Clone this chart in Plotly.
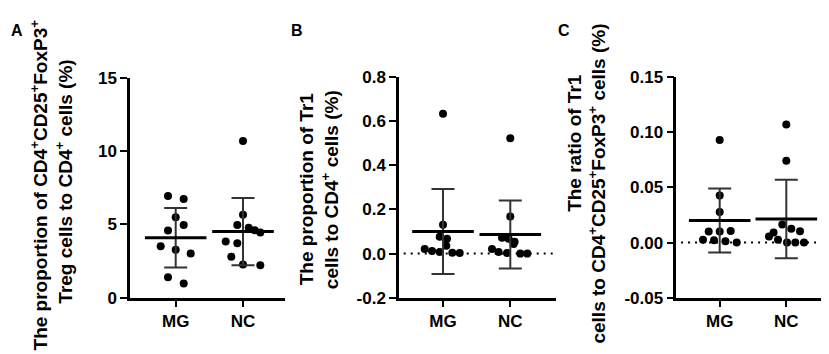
import plotly.graph_objects as go

# ---------------- data ----------------
groups = ["MG", "NC"]

# Panel A: CD4+CD25+FoxP3+ Treg / CD4+ (%)
A_MG = [6.94, 6.73, 5.48, 4.95, 4.58, 3.51, 3.27, 3.01, 1.40, 0.97]
A_NC = [10.68, 5.65, 4.95, 4.77, 4.60, 4.45, 3.83, 3.72, 2.80, 2.26, 2.22]
A_mean = [4.09, 4.51]
A_sd = [2.03, 2.29]

# Panel B: Tr1 / CD4+ (%)
B_MG = [0.633, 0.131, 0.076, 0.067, 0.036, 0.021, 0.012, 0.007, 0.004, 0.003]
B_NC = [0.522, 0.168, 0.072, 0.067, 0.054, 0.043, 0.021, 0.007, 0.003, 0.000, 0.000]
B_mean = [0.100, 0.086]
B_sd = [0.192, 0.154]

# Panel C: Tr1 / CD4+CD25+FoxP3+ (%)
C_MG = [0.0928, 0.0425, 0.0277, 0.0099, 0.0099, 0.0105, 0.0026, 0.0020, 0.0011, 0.0000]
C_NC = [0.107, 0.074, 0.0163, 0.0125, 0.0091, 0.0103, 0.0054, 0.0026, 0.0000, 0.0000, 0.0000]
C_mean = [0.020, 0.0214]
C_sd = [0.029, 0.0355]

# horizontal scatter spread of dots (pixels)
A_MG_jit = [-7.7, 8, 0, 8, -7.7, -15, 0, 15, -7.7, 8]
A_NC_jit = [0, 0, -5.7, 5.7, 11.7, 17.3, -17.3, -5.7, -11.7, 0, 17.3]
B_MG_jit = [0, 0, -3.3, 4, 3.3, -18.3, -11, -3.3, 9.3, 16.7]
B_NC_jit = [0, 0, -8.3, -1.7, 4.3, 3.3, -18.3, -11.7, -3.3, 10, 17]
C_MG_jit = [0, 0, 0, -11, 0, 11, -16.7, -5.7, 5.7, 17]
C_NC_jit = [0, 0, -4, 5, -12.7, 13.7, -17.3, -8.3, 0.7, 9, 17.7]

# tick labels
A_ticks = [0, 5, 10, 15]
A_ticktext = ["0", "5", "10", "15"]
B_ticks = [-0.2, 0.0, 0.2, 0.4, 0.6, 0.8]
B_ticktext = ["-0.2", "0.0", "0.2", "0.4", "0.6", "0.8"]
C_ticks = [-0.05, 0.0, 0.05, 0.10, 0.15]
C_ticktext = ["-0.05", "0.00", "0.05", "0.10", "0.15"]

# ---------------- layout helpers ----------------
W, H = 829, 354
FONT = "Arial, Liberation Sans, sans-serif"

def px_x(p):
    return p / W

def px_y(p):
    return (H - p) / H

panels = [
    dict(key="", data=(A_MG, A_NC), jit=(A_MG_jit, A_NC_jit), mean=A_mean, sd=A_sd,
         xl=122, xr=277, ytop=64, ybot=296.7, cat=(167.7, 235.0),
         yrange=[0, 15], ticks=A_ticks, ticktext=A_ticktext, zero=False),
    dict(key="2", data=(B_MG, B_NC), jit=(B_MG_jit, B_NC_jit), mean=B_mean, sd=B_sd,
         xl=391, xr=548, ytop=63.3, ybot=296.7, cat=(435.0, 502.3),
         yrange=[-0.2, 0.8], ticks=B_ticks, ticktext=B_ticktext, zero=True),
    dict(key="3", data=(C_MG, C_NC), jit=(C_MG_jit, C_NC_jit), mean=C_mean, sd=C_sd,
         xl=668.3, xr=826.7, ytop=63.3, ybot=296.7, cat=(711.7, 778.3),
         yrange=[-0.05, 0.15], ticks=C_ticks, ticktext=C_ticktext, zero=True),
]

fig = go.Figure()
shapes = []
layout = {}

for p in panels:
    k = p["key"]
    xa, ya = "x" + k, "y" + k
    ppu = p["cat"][1] - p["cat"][0]  # pixels per category unit
    r0 = 1 - (p["cat"][0] - p["xl"]) / ppu
    r1 = 2 + (p["xr"] - p["cat"][1]) / ppu

    for gi, (vals, jit) in enumerate(zip(p["data"], p["jit"])):
        xs = [gi + 1 + j / ppu for j in jit]
        fig.add_trace(go.Scatter(
            x=xs, y=vals, mode="markers", xaxis=xa, yaxis=ya,
            marker=dict(color="black", size=8, line=dict(width=0)),
            showlegend=False, hoverinfo="skip"))

    # mean with SD
    fig.add_trace(go.Scatter(
        x=[1, 2], y=p["mean"], mode="markers", xaxis=xa, yaxis=ya,
        marker=dict(symbol="line-ew", size=44, color="black",
                    line=dict(width=3, color="black")),
        error_y=dict(type="data", array=p["sd"], visible=True,
                     width=11.5, thickness=2, color="#333333"),
        showlegend=False, hoverinfo="skip"))

    axis_common = dict(showline=True, linecolor="black", linewidth=2.5,
                       ticks="outside", tickcolor="black", tickwidth=2,
                       showgrid=False, zeroline=False,
                       tickfont=dict(family=FONT, size=17, color="black", weight="bold"))
    layout["xaxis" + k] = dict(
        domain=[px_x(p["xl"]), px_x(p["xr"])], range=[r0, r1],
        anchor=ya, tickvals=[1, 2], ticktext=groups, ticklen=6,
        **axis_common)
    layout["yaxis" + k] = dict(
        domain=[px_y(p["ybot"]), px_y(p["ytop"])], range=p["yrange"],
        anchor=xa, tickvals=p["ticks"], ticktext=p["ticktext"], ticklen=7,
        **axis_common)

    if p["zero"]:
        shapes.append(dict(type="line", xref=xa + " domain", yref=ya,
                           x0=0.03, x1=1, y0=0, y1=0,
                           line=dict(color="black", width=2, dash="2px,5px"),
                           layer="below"))

# axis titles (rotated text) and panel letters
title_font = dict(family=FONT, size=19, color="black", weight="bold")
titles = [
    ("The proportion of CD4<sup>+</sup>CD25<sup>+</sup>FoxP3<sup>+</sup>", 31, 178),
    ("Treg cells to CD4<sup>+</sup> cells (%)", 56, 174),
    ("The proportion of Tr1", 298, 182),
    ("cells to CD4<sup>+</sup> cells (%)", 322, 183),
    ("The ratio of Tr1", 567, 133),
    ("cells to CD4<sup>+</sup>CD25<sup>+</sup>FoxP3<sup>+</sup> cells (%)", 589, 176),
]
annotations = []
for text, x, y in titles:
    annotations.append(dict(text=text, x=px_x(x), y=px_y(y), xref="paper", yref="paper",
                            xanchor="center", yanchor="middle", textangle=-90,
                            showarrow=False, font=title_font))
letter_font = dict(family=FONT, size=16, color="black", weight="bold")
for text, x, y in [("A", 9, 14), ("B", 289, 14), ("C", 556, 14)]:
    annotations.append(dict(text=text, x=px_x(x), y=px_y(y), xref="paper", yref="paper",
                            xanchor="center", yanchor="middle", showarrow=False,
                            font=letter_font))

fig.update_layout(
    width=W, height=H, margin=dict(l=0, r=0, t=0, b=0),
    paper_bgcolor="white", plot_bgcolor="white",
    shapes=shapes, annotations=annotations, **layout)

fig.write_html("out.html")
